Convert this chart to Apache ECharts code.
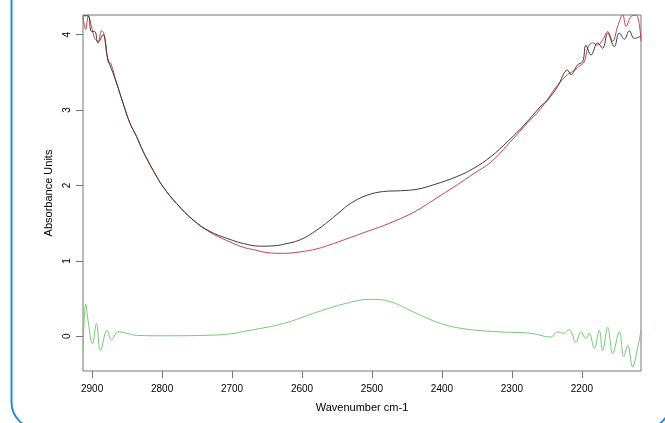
<!DOCTYPE html>
<html>
<head>
<meta charset="utf-8">
<script src="https://cdn.jsdelivr.net/npm/echarts@6/dist/echarts.min.js"></script>
<style>html,body{margin:0;padding:0;background:#fff}#c{width:665px;height:423px}</style>
</head>
<body>
<div id="c"></div>
<script>
// measured spectrum (black)
const measured = [
[2913,4.25],[2905.8,4.25],[2901,4.04],[2896.2,4.04],[2891.5,3.89],[2884.3,4.00],[2877.2,3.67],
[2870.5,3.50],[2865.1,3.36],[2855.7,3.09],[2846.1,2.83],[2836.5,2.65],[2827,2.45],[2812.7,2.20],
[2798.4,1.98],[2779.2,1.76],[2755.4,1.54],[2731.5,1.39],[2707.6,1.30],[2683.8,1.23],[2659.8,1.195],
[2640,1.20],[2626.5,1.22],[2602.5,1.28],[2578.6,1.41],[2554.8,1.58],[2530.9,1.76],[2507,1.87],
[2483.2,1.92],[2459.3,1.93],[2435.3,1.95],[2411.6,2.01],[2378,2.12],[2354.2,2.23],[2330.3,2.38],
[2306.4,2.58],[2282.6,2.80],[2258.7,3.05],[2249.1,3.13],[2234.8,3.31],[2220.4,3.53],[2215.7,3.47],
[2206.1,3.60],[2198.9,3.64],[2194.2,3.86],[2187,3.73],[2177.4,3.89],[2170.3,3.82],[2163.1,4.02],
[2153.7,3.84],[2146.5,4.02],[2139.3,3.94],[2132.2,4.05],[2125,3.95],[2115.4,3.98]
];
// baseline fit (red)
const baseline = [
[2913,4.24],[2909.1,4.07],[2905.3,4.25],[2901,4.11],[2896.2,3.95],[2891.5,3.91],[2886.6,4.05],
[2883.3,4.02],[2877.2,3.64],[2873.3,3.62],[2865.1,3.36],[2855.7,3.09],[2846.1,2.83],[2836.5,2.65],
[2827,2.45],[2812.7,2.20],[2798.4,1.98],[2779.2,1.76],[2755.4,1.54],[2731.5,1.38],[2707.6,1.27],
[2683.8,1.18],[2669.4,1.15],[2650,1.11],[2626.5,1.10],[2602.5,1.12],[2578.6,1.16],[2554.8,1.23],
[2530.9,1.31],[2507,1.39],[2483,1.47],[2459.3,1.56],[2435.3,1.67],[2411.6,1.81],[2378,2.01],
[2354,2.16],[2330,2.31],[2306,2.54],[2282.6,2.78],[2258.7,3.02],[2234.8,3.33],[2220.4,3.47],
[2213.3,3.51],[2203.8,3.58],[2196.6,3.64],[2190.9,3.84],[2184.6,3.89],[2177.4,3.86],[2170.3,3.93],
[2163.1,4.04],[2156,3.91],[2148.8,4.11],[2141.6,4.26],[2136.9,4.11],[2129.7,4.24],[2122.5,4.26],
[2115.4,3.91]
];
// difference (green)
const difference = [
[2913,-0.21],[2909.1,0.43],[2905.8,0.21],[2899.5,-0.10],[2893.8,0.17],[2888,-0.19],[2878.6,0.08],
[2872.3,-0.05],[2862.9,0.06],[2850.8,0.04],[2836.5,0.013],[2803,0.007],[2717.1,0.02],[2674.2,0.08],
[2626.5,0.17],[2578.6,0.32],[2535.6,0.44],[2502.3,0.49],[2473.6,0.46],[2440.2,0.32],[2401.9,0.17],
[2368.6,0.10],[2320.7,0.06],[2273,0.04],[2244.4,-0.01],[2234.8,0.06],[2225.3,0.04],[2218.1,0.09],
[2208.5,-0.08],[2201.4,0.06],[2194.2,-0.03],[2189.5,0.04],[2182.3,-0.16],[2175.2,0.08],[2170.3,-0.19],
[2163.1,0.12],[2155.9,-0.23],[2146.5,0.06],[2140.2,-0.27],[2134.5,-0.12],[2127.3,-0.41],[2122.5,-0.25],
[2115.4,0.08]
];
const xTicks = [2900,2800,2700,2600,2500,2400,2300,2200];
const yTicks = [0,1,2,3,4];

const chart = echarts.init(document.getElementById('c'), null, {renderer:'canvas'});
const font = 'Liberation Sans, Arial, sans-serif';
chart.setOption({
  animation:false,
  grid:{left:83,top:15,width:558,height:356,show:true,borderColor:'#777',borderWidth:1,backgroundColor:'transparent'},
  xAxis:{
    type:'value', inverse:true, min:2115.5, max:2913,
    name:'Wavenumber cm-1', nameLocation:'middle', nameGap:31,
    nameTextStyle:{fontFamily:font,fontSize:11,color:'#000'},
    axisLine:{show:false,onZero:false},
    splitLine:{show:false},
    axisTick:{show:true,length:7,lineStyle:{color:'#777'},customValues:xTicks},
    axisLabel:{customValues:xTicks,formatter:v=>String(v),fontFamily:font,fontSize:10,color:'#000',margin:13}
  },
  yAxis:{
    type:'value', min:-0.46, max:4.26,
    name:'Absorbance Units', nameLocation:'middle', nameGap:28, nameRotate:90,
    nameTextStyle:{fontFamily:font,fontSize:11,color:'#000'},
    axisLine:{show:false,onZero:false},
    splitLine:{show:false},
    axisTick:{show:true,length:7,lineStyle:{color:'#777'},customValues:yTicks},
    axisLabel:{customValues:yTicks,formatter:v=>String(v),rotate:90,fontFamily:font,fontSize:10,color:'#000',margin:11}
  },
  series:[
    {type:'line',data:difference,showSymbol:false,smooth:0.4,lineStyle:{color:'#78c878',width:1}},
    {type:'line',data:baseline,showSymbol:false,smooth:0.4,lineStyle:{color:'#c4454a',width:1}},
    {type:'line',data:measured,showSymbol:false,smooth:0.4,lineStyle:{color:'#3c3c3c',width:1}}
  ],
  graphic:[{type:'rect',shape:{x:11.5,y:-40,width:659,height:469,r:27},style:{fill:'none',stroke:'#2b8ad6',lineWidth:2},silent:true}]
});
</script>
</body>
</html>
